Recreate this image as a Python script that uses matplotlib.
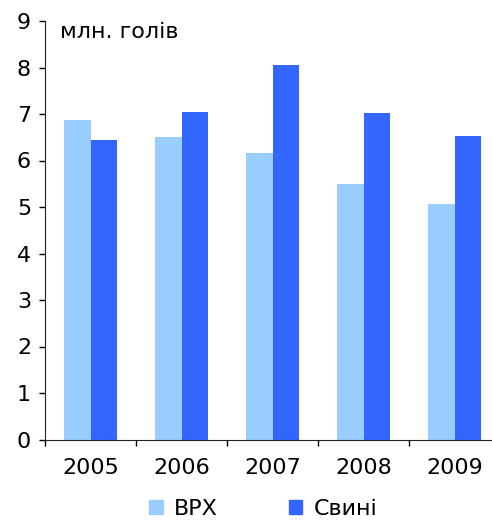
import matplotlib.pyplot as plt
import numpy as np
from matplotlib.patches import Patch

years = ['2005', '2006', '2007', '2008', '2009']
vrh = [6.87, 6.51, 6.16, 5.49, 5.06]
svyni = [6.44, 7.04, 8.06, 7.02, 6.53]

plt.rcParams['font.family'] = ['DejaVu Sans']

fig = plt.figure(figsize=(4.92, 5.2), dpi=100)
ax = fig.add_axes([45 / 492, 80.5 / 520, 455 / 492, 418.5 / 520])

x = np.arange(len(years))
w = 0.29
ax.bar(x - w / 2, vrh, w, color='#99CCFF')
ax.bar(x + w / 2, svyni, w, color='#3366FF')

ax.set_xlim(-0.5, len(years) - 0.5)
ax.set_ylim(0, 9)
ax.set_yticks(range(0, 10))
ax.set_xticks(x)
ax.set_xticklabels(years)
ax.set_xticks(np.arange(-0.5, len(years)), minor=True)
ax.tick_params(axis='x', which='major', length=0, pad=13, labelsize=16)
ax.tick_params(axis='x', which='minor', length=4.5, width=1)
ax.tick_params(axis='y', length=4.5, width=1, labelsize=16, pad=5.5)

for s in ['top', 'right']:
    ax.spines[s].set_visible(False)
for s in ['left', 'bottom']:
    ax.spines[s].set_color('#222222')

ax.text(15 / 455, 0.959, 'млн. голів', transform=ax.transAxes,
        fontsize=16, va='baseline', ha='left')

handles = [Patch(color='#99CCFF', label='ВРХ'), Patch(color='#3366FF', label='Свині')]
fig.legend(handles=handles, loc='lower center', bbox_to_anchor=(0.535, -0.036),
           ncol=2, frameon=False, fontsize=16, handlelength=0.6, handleheight=0.6,
           handletextpad=0.5, columnspacing=3.2)

fig.savefig('out.png', dpi=100)
